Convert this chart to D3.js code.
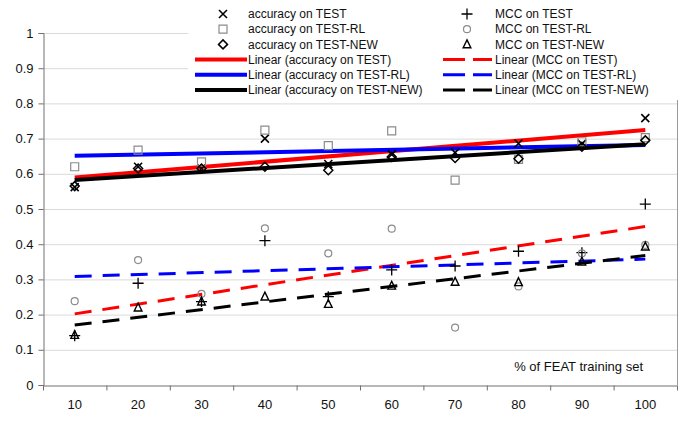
<!DOCTYPE html>
<html>
<head>
<meta charset="utf-8">
<script src="https://cdn.jsdelivr.net/npm/d3@7"></script>
<style>
  html, body { margin: 0; padding: 0; background: #fff; }
  svg { display: block; font-family: "Liberation Sans", Arial, sans-serif; }
</style>
</head>
<body>
<svg id="chart" width="685" height="421"></svg>
<script>
// ---- data ----
const categories = [10, 20, 30, 40, 50, 60, 70, 80, 90, 100];
const accTest    = [0.562, 0.620, 0.615, 0.700, 0.628, 0.655, 0.660, 0.686, 0.685, 0.758];
const accTestRL  = [0.620, 0.667, 0.634, 0.724, 0.680, 0.722, 0.582, 0.641, 0.691, 0.703];
const accTestNew = [0.565, 0.615, 0.615, 0.620, 0.610, 0.648, 0.645, 0.643, 0.677, 0.695];
const mccTest    = [0.140, 0.289, 0.237, 0.410, 0.251, 0.327, 0.338, 0.380, 0.376, 0.514];
const mccTestRL  = [0.238, 0.355, 0.259, 0.445, 0.374, 0.444, 0.163, 0.280, 0.374, 0.398];
const mccTestNew = [0.142, 0.220, 0.237, 0.251, 0.230, 0.282, 0.293, 0.292, 0.350, 0.393];
const yTickValues = [0, 0.1, 0.2, 0.3, 0.4, 0.5, 0.6, 0.7, 0.8, 0.9, 1];
const yTickLabels = ["0", "0.1", "0.2", "0.3", "0.4", "0.5", "0.6", "0.7", "0.8", "0.9", "1"];
const xAxisTitle = "% of FEAT training set";

const series = [
  { name: "accuracy on TEST",     values: accTest,    marker: "x",        col: 0, row: 0 },
  { name: "accuracy on TEST-RL",  values: accTestRL,  marker: "square",   col: 0, row: 1 },
  { name: "accuracy on TEST-NEW", values: accTestNew, marker: "diamond",  col: 0, row: 2 },
  { name: "MCC on TEST",          values: mccTest,    marker: "plus",     col: 1, row: 0 },
  { name: "MCC on TEST-RL",       values: mccTestRL,  marker: "circle",   col: 1, row: 1 },
  { name: "MCC on TEST-NEW",      values: mccTestNew, marker: "triangle", col: 1, row: 2 }
];
const trends = [
  { src: 0, color: "#ff0000", dash: null, col: 0, row: 3 },
  { src: 1, color: "#0000ff", dash: null, col: 0, row: 4 },
  { src: 2, color: "#000000", dash: null, col: 0, row: 5 },
  { src: 3, color: "#ff0000", dash: "17,11", col: 1, row: 3 },
  { src: 4, color: "#0000ff", dash: "17,11", col: 1, row: 4 },
  { src: 5, color: "#000000", dash: "17,11", col: 1, row: 5 }
];

// ---- layout ----
const L = 43, R = 677, T = 33, B = 385;
const svg = d3.select("#chart");

const x = d3.scaleBand().domain(categories).range([L, R]);
const xb = d3.scaleLinear().domain([0, categories.length]).range([L, R]);
const y = d3.scaleLinear().domain([0, 1]).range([B, T]);
const cx = c => x(c) + x.bandwidth() / 2;

// gridlines
svg.append("g").attr("transform", `translate(${L},0)`)
  .call(d3.axisLeft(y).tickValues(yTickValues.slice(1)).tickSize(-(R - L)).tickFormat(""))
  .call(g => g.select(".domain").remove())
  .call(g => g.selectAll("line").attr("stroke", "#dadada").attr("stroke-width", 1));

// right border of plot area
svg.append("line").attr("x1", R + 0.5).attr("x2", R + 0.5).attr("y1", T).attr("y2", B)
  .attr("stroke", "#9a9a9a").attr("stroke-width", 1);

// y axis
svg.append("g").attr("transform", `translate(${L + 0.5},0)`)
  .call(d3.axisLeft(y).tickValues(yTickValues).tickSize(5).tickPadding(5)
    .tickFormat((d, i) => yTickLabels[i]))
  .call(g => g.select(".domain").attr("stroke", "#707070"))
  .call(g => g.selectAll("line").attr("stroke", "#707070"))
  .call(g => g.selectAll("text").attr("font-size", 13).attr("fill", "#111")
    .attr("font-family", "'Liberation Sans', Arial, sans-serif"));

// x axis boundary ticks
svg.append("g").attr("transform", `translate(0,${B + 0.5})`)
  .call(d3.axisBottom(xb).tickValues(d3.range(0, categories.length + 1))
    .tickSize(5).tickFormat("").tickSizeOuter(0))
  .call(g => g.select(".domain").attr("stroke", "#707070"))
  .call(g => g.selectAll("line").attr("stroke", "#707070"));
// x labels
svg.append("g").attr("transform", `translate(0,${B})`)
  .call(d3.axisBottom(x).tickSize(0).tickPadding(15))
  .call(g => g.select(".domain").remove())
  .call(g => g.selectAll("text").attr("font-size", 13).attr("fill", "#111")
    .attr("font-family", "'Liberation Sans', Arial, sans-serif"));

// x axis title inside plot
svg.append("text").attr("x", 643).attr("y", 371).attr("text-anchor", "end")
  .attr("font-size", 13).attr("fill", "#111").text(xAxisTitle);

// regression
function linreg(vals) {
  const n = vals.length;
  const xs = d3.range(1, n + 1);
  const mx = d3.mean(xs), my = d3.mean(vals);
  let sxy = 0, sxx = 0;
  xs.forEach((xi, i) => { sxy += (xi - mx) * (vals[i] - my); sxx += (xi - mx) * (xi - mx); });
  const b = sxy / sxx, a = my - b * mx;
  return k => a + b * k;
}

// trend lines
trends.forEach(t => {
  const f = linreg(series[t.src].values);
  const pts = [[categories[0], f(1)], [categories[categories.length - 1], f(categories.length)]];
  svg.append("path")
    .attr("d", d3.line().x(d => cx(d[0])).y(d => y(d[1]))(pts))
    .attr("fill", "none").attr("stroke", t.color)
    .attr("stroke-width", t.dash ? 3 : 4)
    .attr("stroke-dasharray", t.dash);
});

// markers
function markerPath(type) {
  const p = d3.path();
  if (type === "x") { const r = 4; p.moveTo(-r, -r); p.lineTo(r, r); p.moveTo(-r, r); p.lineTo(r, -r); }
  else if (type === "plus") { const r = 5.5; p.moveTo(-r, 0); p.lineTo(r, 0); p.moveTo(0, -r); p.lineTo(0, r); }
  else if (type === "square") { const r = 4; p.rect(-r, -r, 2 * r, 2 * r); }
  else if (type === "diamond") { const r = 4.5; p.moveTo(0, -r); p.lineTo(r, 0); p.lineTo(0, r); p.lineTo(-r, 0); p.closePath(); }
  else if (type === "circle") { const r = 3.5; p.moveTo(r, 0); p.arc(0, 0, r, 0, 2 * Math.PI); }
  else if (type === "triangle") { const r = 4.5; p.moveTo(0, -r); p.lineTo(r * 0.85, r * 0.75); p.lineTo(-r * 0.85, r * 0.75); p.closePath(); }
  return p.toString();
}
const markerStyle = {
  x:        { stroke: "#000", w: 1.6 },
  plus:     { stroke: "#000", w: 1.3 },
  square:   { stroke: "#8c8c8c", w: 1.2 },
  diamond:  { stroke: "#000", w: 1.5 },
  circle:   { stroke: "#8c8c8c", w: 1.2 },
  triangle: { stroke: "#000", w: 1.4 }
};
series.forEach(s => {
  const st = markerStyle[s.marker];
  svg.append("g").selectAll("path").data(s.values).join("path")
    .attr("transform", (d, i) => `translate(${cx(categories[i])},${y(d)})`)
    .attr("d", markerPath(s.marker))
    .attr("fill", "none").attr("stroke", st.stroke).attr("stroke-width", st.w);
});

// legend
const lg = svg.append("g");
lg.append("rect").attr("x", 188).attr("y", 0).attr("width", 497).attr("height", 100).attr("fill", "#fff");
const colX = [{ mark: 223, line0: 195, line1: 247, text: 248 }, { mark: 467, line0: 443, line1: 492, text: 495 }];
const rowY = r => 14 + r * 15.2;
series.forEach(s => {
  const c = colX[s.col], yy = rowY(s.row), st = markerStyle[s.marker];
  lg.append("path").attr("transform", `translate(${c.mark},${yy})`).attr("d", markerPath(s.marker))
    .attr("fill", "none").attr("stroke", st.stroke).attr("stroke-width", st.w);
  lg.append("text").attr("x", c.text).attr("y", yy).attr("dy", "0.35em")
    .attr("font-size", 12).attr("fill", "#111").text(s.name);
});
trends.forEach(t => {
  const c = colX[t.col], yy = rowY(t.row);
  lg.append("line").attr("x1", c.line0).attr("x2", c.line1).attr("y1", yy).attr("y2", yy)
    .attr("stroke", t.color).attr("stroke-width", t.dash ? 3 : 4)
    .attr("stroke-dasharray", t.dash ? "22,8" : null);
  lg.append("text").attr("x", c.text).attr("y", yy).attr("dy", "0.35em")
    .attr("font-size", 12).attr("fill", "#111").text(`Linear (${series[t.src].name})`);
});
</script>
</body>
</html>
